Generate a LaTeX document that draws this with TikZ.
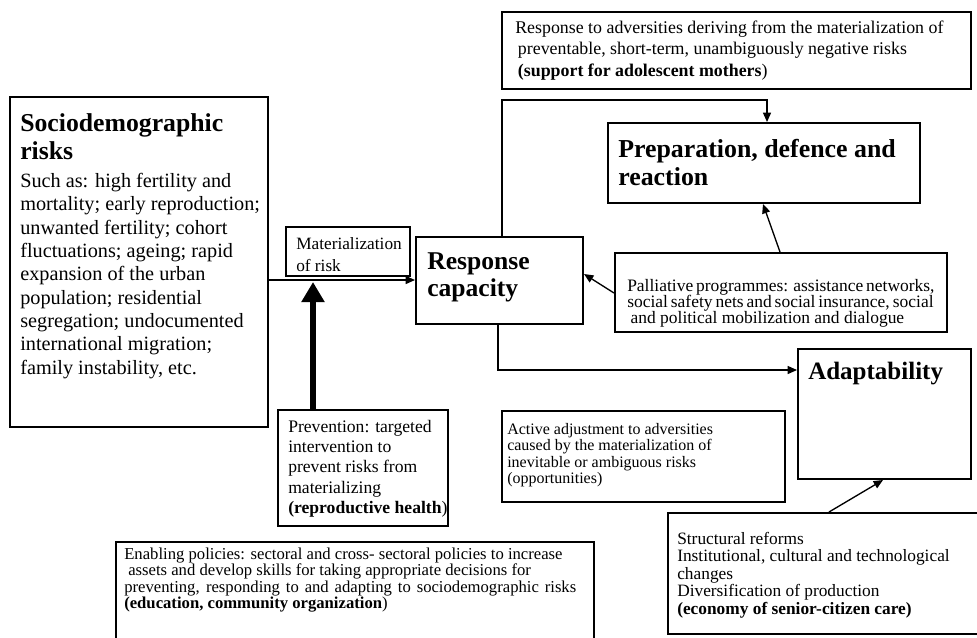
\documentclass[tikz,border=0pt]{standalone}
\usepackage{fontspec}
\setmainfont{Liberation Serif}
\usetikzlibrary{arrows.meta,fit}
\begin{document}
\begin{tikzpicture}[x=0.75pt,y=-0.75pt,
  box/.style={draw, line width=1.5pt, inner sep=0pt},
  txt/.style={anchor=north west, inner sep=0pt, align=left},
  arr/.style={line width=1pt, -{Triangle[length=7pt,width=6pt]}},
  bigarr/.style={line width=4.5pt, -{Triangle[length=15pt,width=16.5pt]}}]
\useasboundingbox (0,0) rectangle (977,637);
\clip (0,0) rectangle (977,637);
% boxes
\node[box, fit={(10,97)(268,427)}] (socio) {};
\node[box, fit={(286,227)(410,276)}] (mat) {};
\node[box, fit={(416,237)(583,324)}] (resp) {};
\node[box, fit={(502,12)(971,89)}] (top) {};
\node[box, fit={(608,123)(920,203)}] (prep) {};
\node[box, fit={(615,253)(947,332)}] (pall) {};
\node[box, fit={(798,349)(971,479)}] (adapt) {};
\node[box, fit={(502,411)(785,502)}] (active) {};
\node[box, fit={(278,410)(448,526)}] (prev) {};
\node[box, fit={(116,542)(594,650)}] (enab) {};
\node[box, fit={(668,513)(990,634)}] (struct) {};
% texts
\node[txt, font=\fontsize{19.3}{21}\selectfont\bfseries] (socioT) at (20,110.4) {\rule{0pt}{15.4pt}Sociodemographic\\risks};
\node[txt, font=\fontsize{15.2}{17.5}\selectfont] (socioB) at (20,170.8) {\rule{0pt}{12.2pt}Such as: high fertility and\\mortality; early reproduction;\\unwanted fertility; cohort\\fluctuations; ageing; rapid\\expansion of the urban\\population; residential\\segregation; undocumented\\international migration;\\family instability, etc.};
\node[txt, font=\fontsize{12.95}{16.5}\selectfont] (matT) at (296,235.2) {\rule{0pt}{10.36pt}Materialization\\of risk};
\node[txt, font=\fontsize{19.2}{20.25}\selectfont\bfseries] (respT) at (427,248.5) {\rule{0pt}{15.36pt}Response\\capacity};
\node[txt, font=\fontsize{13.4}{16.1}\selectfont] (topT) at (515,18.7) {\rule{0pt}{10.72pt}Response to adversities deriving from the materialization of\\\hspace{2pt}preventable, short-term, unambiguously negative risks\\\hspace{2pt}\textbf{(support for adolescent mothers})};
\node[txt, font=\fontsize{19.4}{21}\selectfont\bfseries] (prepT) at (618,136.3) {\rule{0pt}{15.5pt}Preparation, defence and\\reaction};
\node[txt, font=\fontsize{13.1}{12.15}\selectfont] (pallT) at (627,277) {\rule{0pt}{10.48pt}\makebox[228.75pt][s]{Palliative programmes: assistance networks,}\\\makebox[228.75pt][s]{social safety nets and social insurance, social}\\\hspace{2.5pt}and political mobilization and dialogue};
\node[txt, font=\fontsize{18.75}{21}\selectfont\bfseries] (adaptT) at (808,359) {\rule{0pt}{15pt}Adaptability};
\node[txt, font=\fontsize{12}{12.4}\selectfont] (activeT) at (507,421.2) {\rule{0pt}{9.6pt}Active adjustment to adversities\\caused by the materialization of\\inevitable or ambiguous risks\\(opportunities)};
\node[txt, font=\fontsize{13.2}{15.2}\selectfont] (prevT) at (288,417.9) {\rule{0pt}{10.56pt}Prevention: targeted\\intervention to\\prevent risks from\\materializing\\\textbf{(reproductive health})};
\node[txt, font=\fontsize{12.5}{11.25}\selectfont] (enabT) at (124,545.6) {\rule{0pt}{10pt}Enabling policies: sectoral and cross- sectoral policies to increase\\\hspace{3pt}assets and develop skills for taking appropriate decisions for\\\makebox[339pt][s]{preventing, responding to and adapting to sociodemographic risks}\\\textbf{(education, community organization})};
\node[txt, font=\fontsize{13}{13.1}\selectfont] (structT) at (677,530.1) {\rule{0pt}{10.4pt}Structural reforms\\Institutional, cultural and technological\\changes\\Diversification of production\\\textbf{(economy of senior-citizen care)}};
% helper coordinates
\coordinate (hy) at (0,280);
\coordinate (k1) at (502,100);
\coordinate (pk) at (767,100);
\coordinate (k2) at (498,370);
\coordinate (tx) at (313,282);
\coordinate (pa) at (780,0);
\coordinate (pb) at (763,0);
\coordinate (pl) at (0,293);
\coordinate (pr) at (0,274);
\coordinate (sa) at (829,0);
\coordinate (sb) at (883,0);
% connectors
\draw[arr] (socio.east |- hy) -- (resp.west |- hy);
\draw[bigarr] (prev.north -| tx) -- (tx);
\draw[arr] (resp.north -| k1) -- (k1) -- (pk) -- (pk |- prep.north);
\draw[arr] (resp.south -| k2) -- (k2) -- (k2 -| adapt.west);
\draw[arr] (pall.north -| pa) -- (prep.south -| pb);
\draw[arr] (pall.west |- pl) -- (resp.east |- pr);
\draw[arr] (struct.north -| sa) -- (adapt.south -| sb);
\end{tikzpicture}
\end{document}
